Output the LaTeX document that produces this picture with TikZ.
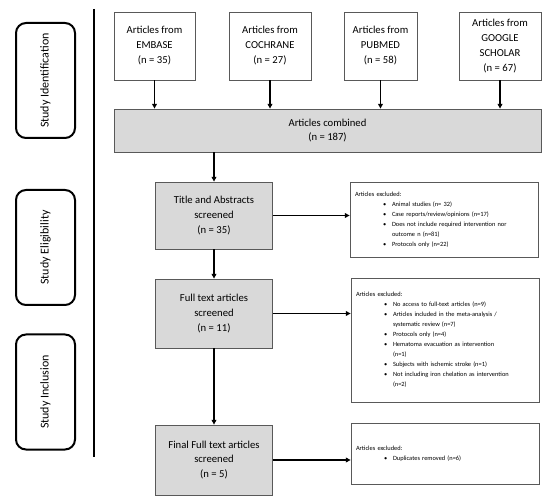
\documentclass[tikz,border=0pt]{standalone}
\usepackage{fontspec}
\setmainfont{Carlito}
\usetikzlibrary{arrows.meta}
\usepackage{xcolor}
\definecolor{BoxGray}{HTML}{D9D9D9}
\definecolor{EdgeGray}{HTML}{595959}
\newcommand{\exitem}[1]{\par\noindent\hspace*{21pt}\makebox[6.75pt][l]{\textbullet}\mbox{#1}}
\newcommand{\exmore}[1]{\par\noindent\hspace*{27.75pt}\mbox{#1}}

\begin{document}
\begin{tikzpicture}[x=0.75pt,y=-0.75pt,
    stage/.style={draw=black,line width=1.5pt,rounded corners=7.5pt,rotate=90,
      minimum width=86.25pt,minimum height=44.25pt,font=\fontsize{9}{11}\selectfont},
    source/.style={draw=EdgeGray,line width=0.6pt,fill=white,align=center,
      minimum height=51pt,inner sep=2pt,font=\fontsize{8}{11.25}\selectfont},
    screen/.style={draw=EdgeGray,line width=0.6pt,fill=BoxGray,align=center,
      minimum width=88pt,font=\fontsize{8}{11}\selectfont},
    excluded/.style={draw=EdgeGray,line width=0.6pt,fill=white,align=left,
      text width=133.5pt,inner xsep=3.75pt,font=\fontsize{4.8}{7.5}\selectfont},
    arrow/.style={-{Triangle[length=3.5pt,width=3.5pt]},line width=0.9pt}
  ]
    \useasboundingbox (0,0) rectangle (550,502);

    % stages on the left
    \node[stage] (ident) at (45.5,80.5) {Study Identification};
    \node[stage] (elig) at (45.5,247.5) {Study Eligibility};
    \node[stage] (incl) at (45.5,392) {Study Inclusion};
    \draw[line width=1.5pt] (94,9) -- (94,457);

    % databases
    \node[source,minimum width=60.75pt] (embase) at (154.5,46)
      {Articles from\\EMBASE\\(n = 35)};
    \node[source,minimum width=61.5pt] (cochrane) at (270,46)
      {Articles from\\COCHRANE\\(n = 27)};
    \node[source,minimum width=54.75pt] (pubmed) at (380.5,46)
      {Articles from\\PUBMED\\(n = 58)};
    \node[source,minimum width=61.5pt] (google) at (500,46)
      {Articles from\\GOOGLE\\SCHOLAR\\(n = 67)};

    % screening steps
    \node[screen,minimum width=320.25pt,minimum height=32.25pt] (combined)
      at (327.5,130.5) {Articles combined\\(n = 187)};
    \node[screen,minimum height=50.25pt] (title) at (214,215.5)
      {Title and Abstracts\\screened\\(n = 35)};
    \node[screen,minimum height=51.75pt] (fulltext) at (214,313.5)
      {Full text articles\\screened\\(n = 11)};
    \node[screen,minimum height=52.5pt] (final) at (214,460)
      {Final Full text articles\\screened\\(n = 5)};

    % exclusions
    \node[excluded,minimum height=56.25pt] (ex1) at (444,219.5)
      {\noindent Articles excluded:
       \exitem{Animal studies (n= 32)}
       \exitem{Case reports/review/opinions (n=17)}
       \exitem{Does not include required intervention nor}
       \exmore{outcome n (n=81)}
       \exitem{Protocols only (n=22)}};
    \node[excluded,minimum height=93pt] (ex2) at (445,340)
      {\noindent Articles excluded:
       \exitem{No access to full-text articles (n=9)}
       \exitem{Articles included in the meta-analysis /}
       \exmore{systematic review (n=7)}
       \exitem{Protocols only (n=4)}
       \exitem{Hematoma evacuation as intervention}
       \exmore{(n=1)}
       \exitem{Subjects with ischemic stroke (n=1)}
       \exitem{Not including iron chelation as intervention}
       \exmore{(n=2)}};
    \node[excluded,minimum height=45.75pt] (ex3) at (445,453.5)
      {\noindent Articles excluded:
       \exitem{Duplicates removed (n=6)}};

    \draw[arrow] (embase.south) -- (embase.south |- combined.north);
    \draw[arrow] (cochrane.south) -- (cochrane.south |- combined.north);
    \draw[arrow] (pubmed.south) -- (pubmed.south |- combined.north);
    \draw[arrow] (google.south) -- (google.south |- combined.north);
    \draw[arrow] (title.north |- combined.south) -- (title.north);
    \draw[arrow] (title) -- (fulltext); \draw[arrow] (fulltext) -- (final);
    \draw[arrow] (title.east) -- (title.east -| ex1.west);
    \draw[arrow] (fulltext.east) -- (fulltext.east -| ex2.west);
    \draw[arrow] (final.east) -- (final.east -| ex3.west);
  \end{tikzpicture}
\end{document}
